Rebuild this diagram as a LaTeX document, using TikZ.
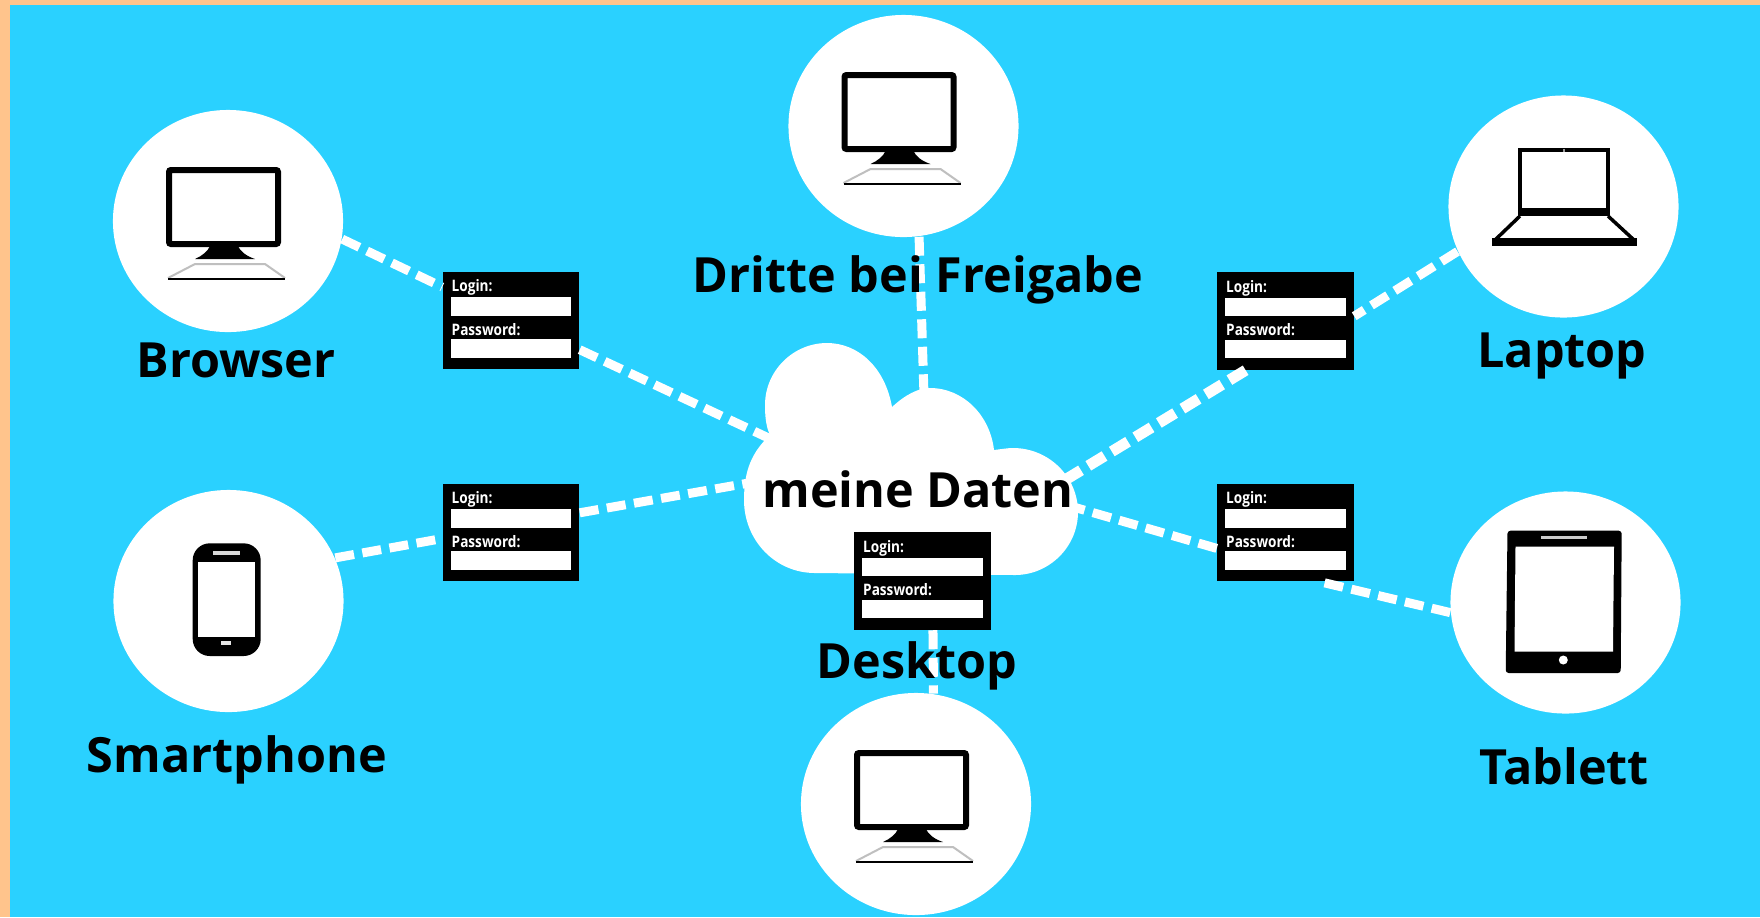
\documentclass[tikz,border=0pt]{standalone}
\usepackage{fontspec}
\setmainfont{Open Sans}
\newfontfamily\formfont[FakeStretch=0.86]{Open Sans}
\usetikzlibrary{shapes.geometric}
\definecolor{sky}{HTML}{2AD1FF}
\definecolor{peach}{HTML}{FFC48C}
\tikzset{
  device/.style={ellipse,fill=white,inner sep=0pt,minimum width=2.3cm,minimum height=2.22cm},
  devicename/.style={anchor=base,font=\fontsize{13.8}{16}\selectfont\bfseries,text=black,inner sep=0pt},
  dataline/.style={white,line width=0.09cm,dash pattern=on 0.19cm off 0.085cm},
  loginbox/.style={fill=black,inner sep=0pt,minimum width=1.36cm,minimum height=0.97cm},
  formfield/.style={fill=white,inner sep=0pt,minimum width=1.2cm,minimum height=0.185cm},
  formlabel/.style={anchor=base west,inner sep=0pt,text=white,font=\formfont\fontsize{4.5}{5}\selectfont\bfseries}
}
\begin{document}
\begin{tikzpicture}[x=0.01cm,y=-0.01cm]
   % background
   \fill[peach] (0,0) rectangle (1760,917);
   \fill[sky] (10,5) rectangle (1760,917);

   % cloud
   \fill[white] (770,435) .. controls (766,427) and (765,416) .. (765,405)
   .. controls (765,371) and (793,343) .. (827,343)
   .. controls (858,343) and (885,367) .. (892,407)
   .. controls (905,395) and (918,388) .. (930,388)
   .. controls (963,388) and (990,415) .. (994,450)
   .. controls (1002,449) and (1008,448) .. (1013,448)
   .. controls (1049,448) and (1078,477) .. (1078,512)
   .. controls (1078,547) and (1049,575) .. (1015,575)
   -- (815,573)
   .. controls (775,573) and (744,540) .. (744,500)
   .. controls (744,470) and (752,452) .. (770,435) -- cycle;
   \coordinate (cloudnw) at (775,441);
   \coordinate (cloudw) at (760,481);
   \coordinate (cloudn) at (924,395);
   \coordinate (cloudne) at (1060,483);
   \coordinate (cloude) at (1070,506);

   % devices
   \node[device] (browser) at (228,221) {};
   \node[device] (smartphone) at (228.5,601) {};
   \node[device] (dritte) at (903.5,126) {};
   \node[device] (desktop) at (916,804) {};
   \node[device] (laptop) at (1563.5,206.5) {};
   \node[device] (tablet) at (1565.5,602.5) {};

   % login forms
   \foreach \form/\fx/\fy in {formA/511/320.5,formB/511/532.5,formC/1285.5/321,formD/1285.5/532.5,formE/922.5/581}{
      \node[loginbox] (\form) at (\fx,\fy) {};
      \begin{scope}[shift={(\form)}]
         \node[formfield] (\form login) at (0,-14.2) {};
         \node[formfield] (\form pass) at (0,28.2) {};
         \node[formlabel] at (-60,-29) {Login:};
         \node[formlabel] at (-60,14.5) {Password:};
      \end{scope}
   }

   % connectors
   \draw[dataline] (browser.-9) -- (formA.154);
   \draw[dataline] (formA.-23) -- (cloudnw);
   \draw[dataline] (smartphone.22) -- (formB.185);
   \draw[dataline] (formB.16) -- (cloudw);
   \draw[dataline] (dritte.-82) -- (cloudn);
   \draw[dataline] (laptop.203) -- (formC.4);
   \draw[dataline,line width=0.11cm] (formC.231) -- (cloudne);
   \draw[dataline] (tablet.185) -- (formD.-55);
   \draw[dataline] (formD.193) -- (cloude);
   \draw[dataline] (formE.-78) -- (desktop.81);

   % names
   \node[devicename] (browsername) at (236,377) {Browser};
   \node[devicename] (smartphonename) at (237,772) {Smartphone};
   \node[devicename] (drittename) at (918,292) {Dritte bei Freigabe};
   \node[devicename] (desktopname) at (917,678) {Desktop};
   \node[devicename] (laptopname) at (1562,367) {Laptop};
   \node[devicename] (tabletname) at (1564,784) {Tablett};
   \node[devicename] (daten) at (918,507) {meine Daten};

   % monitors
   \foreach \dev in {browser,dritte,desktop}{
      \begin{scope}[shift={(\dev)}]
         \draw[black,line width=0.06cm,rounded corners=0.02cm] (-59,-51) rectangle (50,23);
         \fill[black] (-18,25) -- (10,25) .. controls (12,30) and (18,35) .. (27,38) -- (-33,38) .. controls (-26,35) and (-20,30) .. (-18,25) -- cycle;
         \draw[black!25,line width=0.02cm] (-60,57) -- (-33,43) -- (37,43) -- (57,57);
         \draw[black,line width=0.025cm] (-60,58) -- (57,58);
      \end{scope}
   }

   % laptop
   \draw[black,line width=0.04cm] (1519.7,150) rectangle (1608,214);
   \fill[black] (1517.7,208) rectangle (1610,216);
   \fill[black!40] (1563,149) rectangle (1565,152);
   \draw[black,line width=0.035cm] (1520,216) -- (1495,240);
   \draw[black,line width=0.035cm] (1608,216) -- (1634,240);
   \fill[black] (1491.7,238) rectangle (1637,245.7);

   % tablet
   \fill[black,rounded corners=0.03cm] (1507.5,530.7) -- (1621.7,530.7) -- (1620.7,673) -- (1505.7,673) -- cycle;
   \fill[white] (1515.5,546.7) -- (1614,546.7) -- (1613,651.7) -- (1514.5,651.7) -- cycle;
   \fill[black!20] (1540.7,535.7) rectangle (1586.7,539.3);
   \fill[white] (1563.3,660) circle[radius=4.5];

   % smartphone
   \fill[black,rounded corners=0.17cm] (192.7,543.3) rectangle (260.7,656);
   \fill[white] (198.3,561.7) rectangle (255,636.7);
   \fill[black!15] (213,551) rectangle (240,555);
   \fill[black!10] (220.7,641) rectangle (230.7,645);
\end{tikzpicture}
\end{document}
